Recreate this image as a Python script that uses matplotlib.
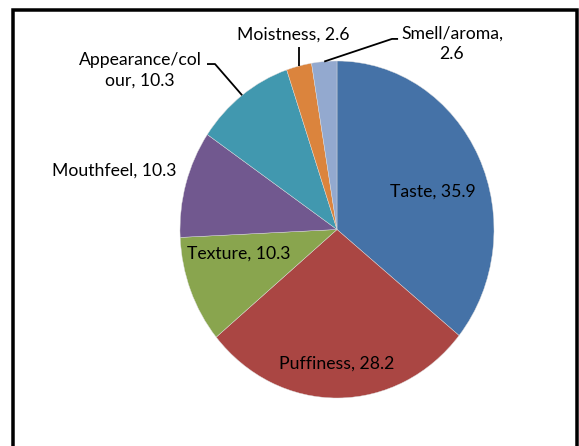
import numpy as np
import matplotlib
matplotlib.use("Agg")
import matplotlib.pyplot as plt
from matplotlib.patches import Rectangle

categories = ["Taste", "Puffiness", "Texture", "Mouthfeel",
              "Appearance/colour", "Moistness", "Smell/aroma"]
values = [35.9, 28.2, 10.3, 10.3, 10.3, 2.6, 2.6]
label_text = ["Taste, 35.9", "Puffiness, 28.2", "Texture, 10.3", "Mouthfeel, 10.3",
              "Appearance/col\nour, 10.3", "Moistness, 2.6", "Smell/aroma,\n2.6"]
colors = ["#4572A7", "#AA4643", "#89A54E", "#71588F", "#4198AF", "#DB843D", "#93A9CF"]

# where each label sits (axes data units, pie radius = 1) and leader line start points
label_pos = [(0.611, 0.223), (0.0, -0.798), (-0.624, -0.145), (-1.420, 0.347),
             (-1.255, 0.944), (-0.280, 1.154), (0.732, 1.101)]
leaders = {4: [(-0.828, 0.982), (-0.777, 0.982)],
           5: [(-0.242, 1.083), (-0.242, 1.083)],
           6: [(0.389, 1.131), (0.350, 1.131)]}

W, H = 579, 446
fig = plt.figure(figsize=(W / 100, H / 100), dpi=100)

# pie is slightly taller than wide in the reference -> aspect auto
ax = fig.add_axes([180 / W, (H - 398) / H, 314 / W, 337 / H])
wedges, _ = ax.pie(values, colors=colors, startangle=90, counterclock=False,
                   wedgeprops=dict(edgecolor="#dddddd", linewidth=0.3))
ax.set_aspect("auto")
ax.set_xlim(-1, 1)
ax.set_ylim(-1, 1)
ax.axis("off")

for i, txt in enumerate(label_text):
    x, y = label_pos[i]
    ax.text(x, y, txt, ha="center", va="center", fontsize=12.7,
            family="Lato", color="black", linespacing=1.3, clip_on=False)

for i, pts in leaders.items():
    w = wedges[i]
    mid = np.deg2rad((w.theta1 + w.theta2) / 2)
    ex, ey = np.cos(mid), np.sin(mid)
    xs = [p[0] for p in pts] + [ex]
    ys = [p[1] for p in pts] + [ey]
    ax.plot(xs, ys, color="black", lw=1.3, clip_on=False, solid_capstyle="butt")

# outer frame (bottom edge falls outside the image)
lw_px = 3.5
frame = Rectangle((13 / W, -0.05), (577 - 13) / W, 1.05 - 9.5 / H,
                  transform=fig.transFigure, fill=False, edgecolor="black",
                  linewidth=lw_px * 72 / 100)
fig.add_artist(frame)

fig.savefig("out.png", dpi=100)
